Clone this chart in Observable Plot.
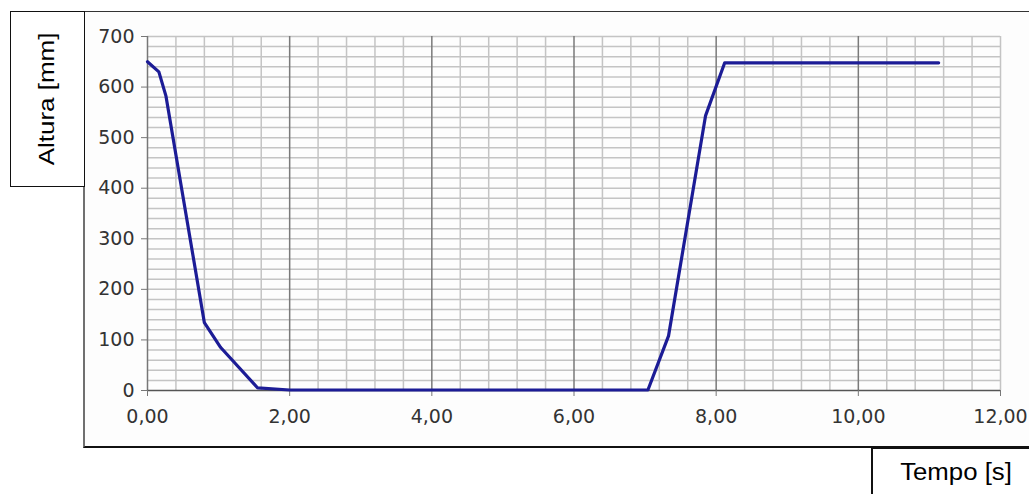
<!DOCTYPE html>
<html>
<head>
<meta charset="utf-8">
<script src="https://cdn.jsdelivr.net/npm/d3@7"></script>
<script src="https://cdn.jsdelivr.net/npm/@observablehq/plot@0.6"></script>
<style>
  html, body { margin: 0; padding: 0; background: #fff; }
  #wrap { position: relative; width: 1029px; height: 494px; overflow: hidden; background: #fff; font-family: "Liberation Sans", Arial, sans-serif; }
  #frame { position: absolute; left: 83px; top: 11px; width: 1000px; height: 437px; border-left: 2px solid #707070; border-top: 1.5px solid #333; border-bottom: 2px solid #111; background: #fdfdfd; box-sizing: border-box; }
  #ybox { position: absolute; left: 10px; top: 11px; width: 75px; height: 176px; border: 1.5px solid #111; background: #fff; box-sizing: border-box; }
  #ylab { position: absolute; left: 47px; top: 99px; transform: translate(-50%, -50%) rotate(-90deg) scaleX(1.18); font-size: 22px; white-space: nowrap; color: #000; }
  #xbox { position: absolute; left: 871px; top: 447px; width: 200px; height: 60px; border-left: 2px solid #111; border-top: 2px solid #111; background: #fff; box-sizing: border-box; }
  #xlab { position: absolute; left: 956px; top: 472px; transform: translate(-50%, -50%) scaleX(1.12); font-size: 23px; white-space: nowrap; color: #000; }
  #chart { position: absolute; left: 0; top: 0; }
  #chart svg text { font-size: 19px !important; font-family: "DejaVu Sans", sans-serif !important; }
</style>
</head>
<body>
<div id="wrap">
  <div id="frame"></div>
  <div id="chart"></div>
  <div id="ybox"></div>
  <div id="ylab">Altura [mm]</div>
  <div id="xbox"></div>
  <div id="xlab">Tempo [s]</div>
</div>
<script>
// Data
const tempo  = [0, 0.16, 0.26, 0.80, 1.03, 1.55, 2.00, 7.04, 7.33, 7.85, 8.12, 11.13];
const altura = [650, 630, 582, 134, 85, 5, 1, 1, 108, 543, 648, 648];

const xTicks = [0, 2, 4, 6, 8, 10, 12];
const yTicks = [0, 100, 200, 300, 400, 500, 600, 700];
const xMinorGrid = d3.range(0.4, 12.01, 0.4).map(d => +d.toFixed(1)).filter(d => !(Math.abs(d % 2) < 1e-6 && d < 12));
const xMajorGrid = [2, 4, 6, 8, 10];
const yGrid = d3.range(20, 701, 20);

const rows = tempo.map((t, i) => ({t, a: altura[i]}));

const chart = Plot.plot({
  width: 1029,
  height: 494,
  marginLeft: 147,
  marginRight: 29,
  marginTop: 36,
  marginBottom: 104,
  style: { background: "transparent", fontFamily: "DejaVu Sans, sans-serif", fontSize: "19px", color: "#333", overflow: "visible" },
  x: { domain: [0, 12] },
  y: { domain: [0, 700] },
  marks: [
    Plot.ruleY(yGrid, { stroke: "#c4c4c4", strokeWidth: 1.5 }),
    Plot.ruleX(xMinorGrid, { stroke: "#c4c4c4", strokeWidth: 1.5 }),
    Plot.ruleX(xMajorGrid, { stroke: "#7a7a7a", strokeWidth: 1.5 }),
    Plot.ruleX([0], { stroke: "#777", strokeWidth: 1.5 }),
    Plot.ruleY([0], { stroke: "#555", strokeWidth: 1.5 }),
    Plot.axisY({ ticks: yTicks, tickSize: 6, tickPadding: 7, label: null, stroke: "#777", fill: "#333" }),
    Plot.axisX({ ticks: xTicks, tickSize: 6, tickPadding: 13, label: null, stroke: "#777", fill: "#333",
                 tickFormat: d => d.toFixed(2).replace(".", ",") }),
    Plot.line(rows, { x: "t", y: "a", stroke: "#1c1c96", strokeWidth: 3.2, strokeLinejoin: "round" })
  ]
});
document.getElementById("chart").appendChild(chart);
</script>
</body>
</html>
